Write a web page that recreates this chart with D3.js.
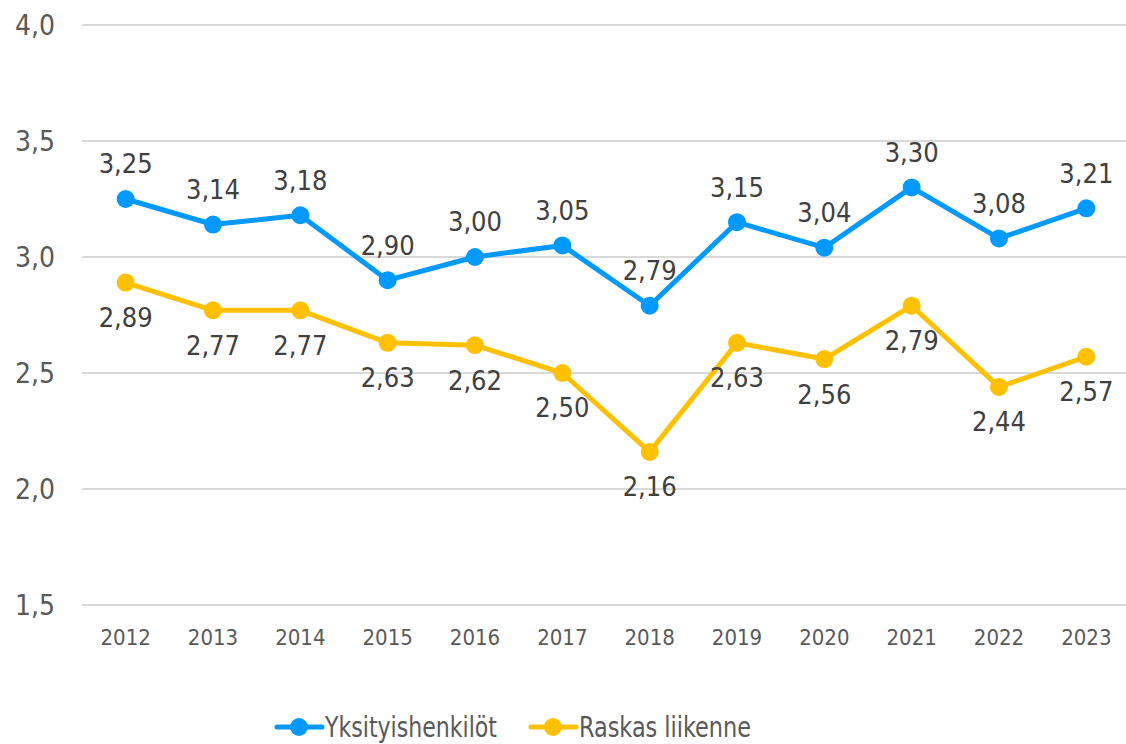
<!DOCTYPE html>
<html>
<head>
<meta charset="utf-8">
<script src="https://cdn.jsdelivr.net/npm/d3@7"></script>
<style>
  body { margin: 0; background: #fff; }
  svg { display: block; font-family: "DejaVu Sans Condensed", "DejaVu Sans", sans-serif; }
</style>
</head>
<body>
<svg id="chart" width="1126" height="744"></svg>
<script>
// data
var years = ["2012", "2013", "2014", "2015", "2016", "2017", "2018", "2019", "2020", "2021", "2022", "2023"];
var yksityis = [3.25, 3.14, 3.18, 2.90, 3.00, 3.05, 2.79, 3.15, 3.04, 3.30, 3.08, 3.21];
var raskas = [2.89, 2.77, 2.77, 2.63, 2.62, 2.50, 2.16, 2.63, 2.56, 2.79, 2.44, 2.57];
var yTicks = [1.5, 2.0, 2.5, 3.0, 3.5, 4.0];
var seriesNames = ["Yksityishenkilöt", "Raskas liikenne"];

var colors = ["#0099ff", "#ffc000"];
var svg = d3.select("#chart");

var x = d3.scalePoint()
    .domain(years)
    .range([82, 1130])
    .padding(0.5);

var y = d3.scaleLinear()
    .domain([1.5, 4.0])
    .range([605, 25]);

var fmt = function(v, digits) { return v.toFixed(digits).replace(".", ","); };

// gridlines
svg.append("g")
    .selectAll("line")
    .data(yTicks)
    .enter()
    .append("line")
    .attr("x1", 82)
    .attr("x2", 1126)
    .attr("y1", function(d) { return y(d); })
    .attr("y2", function(d) { return y(d); })
    .attr("stroke", "#d9d9d9")
    .attr("stroke-width", 2);

// y axis labels
svg.append("g")
    .selectAll("text")
    .data(yTicks)
    .enter()
    .append("text")
    .attr("x", 55)
    .attr("y", function(d) { return y(d); })
    .attr("dy", "0.35em")
    .attr("text-anchor", "end")
    .attr("font-size", 28)
    .attr("fill", "#595959")
    .text(function(d) { return fmt(d, 1); });

// x axis labels
svg.append("g")
    .selectAll("text")
    .data(years)
    .enter()
    .append("text")
    .attr("x", function(d) { return x(d); })
    .attr("y", 637)
    .attr("dy", "0.35em")
    .attr("text-anchor", "middle")
    .attr("font-size", 22)
    .attr("fill", "#595959")
    .text(function(d) { return d; });

var line = d3.line()
    .x(function(d, i) { return x(years[i]); })
    .y(function(d) { return y(d); });

function drawSeries(values, color) {
    var g = svg.append("g");
    g.append("path")
        .datum(values)
        .attr("d", line)
        .attr("fill", "none")
        .attr("stroke", color)
        .attr("stroke-width", 5)
        .attr("stroke-linejoin", "round");
    g.selectAll("circle")
        .data(values)
        .enter()
        .append("circle")
        .attr("cx", function(d, i) { return x(years[i]); })
        .attr("cy", function(d) { return y(d); })
        .attr("r", 9)
        .attr("fill", color);
}

function drawLabels(values, offset) {
    svg.append("g")
        .selectAll("text")
        .data(values)
        .enter()
        .append("text")
        .attr("x", function(d, i) { return x(years[i]); })
        .attr("y", function(d) { return y(d) + offset; })
        .attr("dy", "0.35em")
        .attr("text-anchor", "middle")
        .attr("font-size", 27)
        .attr("fill", "#404040")
        .text(function(d) { return fmt(d, 2); });
}

drawSeries(raskas, colors[1]);
drawSeries(yksityis, colors[0]);
drawLabels(yksityis, -35);
drawLabels(raskas, 35);

// legend
var legendItems = [{ name: seriesNames[0], color: colors[0], x: 277 }, { name: seriesNames[1], color: colors[1], x: 531 }];
var legend = svg.append("g");
legendItems.forEach(function(item) {
    legend.append("line")
        .attr("x1", item.x)
        .attr("x2", item.x + 45)
        .attr("y1", 727)
        .attr("y2", 727)
        .attr("stroke", item.color)
        .attr("stroke-width", 5)
        .attr("stroke-linecap", "round");
    legend.append("circle")
        .attr("cx", item.x + 22)
        .attr("cy", 727)
        .attr("r", 9)
        .attr("fill", item.color);
    legend.append("text")
        .attr("x", item.x + 48)
        .attr("y", 737)
        .attr("font-size", 28)
        .attr("textLength", 172)
        .attr("lengthAdjust", "spacingAndGlyphs")
        .attr("fill", "#595959")
        .text(item.name);
});
</script>
</body>
</html>
